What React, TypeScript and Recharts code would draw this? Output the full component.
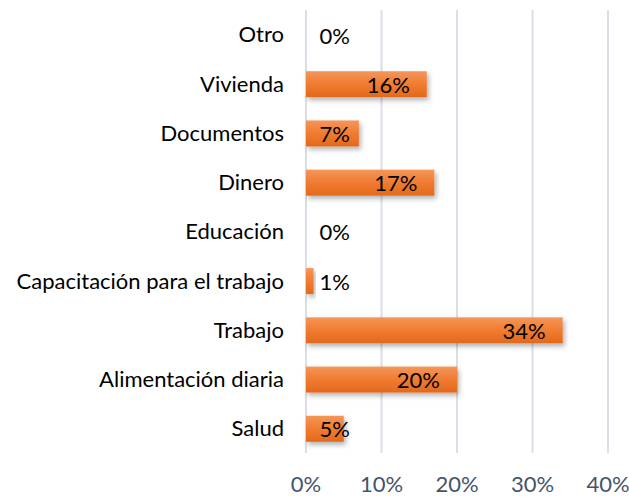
import { BarChart, Bar, XAxis, YAxis, CartesianGrid } from "recharts";

const categories = [
  "Otro",
  "Vivienda",
  "Documentos",
  "Dinero",
  "Educación",
  "Capacitación para el trabajo",
  "Trabajo",
  "Alimentación diaria",
  "Salud",
];
const shares = [0, 0.16, 0.07, 0.17, 0, 0.01, 0.34, 0.2, 0.05];
const xTicks = [0, 0.1, 0.2, 0.3, 0.4];

const data = categories.map((name, i) => ({ name, value: shares[i] }));

const FONT = "Lato, 'Open Sans', sans-serif";
const pct = (v: number) => `${Math.round(v * 100)}%`;

// Excel-style "inside end" label, pushed right when the bar is too short
const renderLabel = (props: any) => {
  const { x, y, width, height, value } = props;
  const end = Math.max(x + width - 17, x + 44);
  return (
    <text
      x={end}
      y={y + height / 2}
      textAnchor="end"
      dominantBaseline="central"
      fontFamily={FONT}
      fontSize={22}
      fill="#000"
    >
      {pct(value)}
    </text>
  );
};

const ShadowBar = (props: any) => {
  const { x, y, width, height } = props;
  if (!width || width <= 0) return null;
  return (
    <rect
      x={x}
      y={y}
      width={width}
      height={height}
      fill="url(#barFill)"
      filter="url(#barShadow)"
    />
  );
};

export default function App() {
  return (
    <div style={{ position: "absolute", left: 0, top: 0, background: "#fff" }}>
      <BarChart
        width={629}
        height={497}
        data={data}
        layout="vertical"
        margin={{ top: 10, right: 21, bottom: 0, left: 0 }}
      >
        <defs>
          <linearGradient id="barFill" x1="0" y1="0" x2="0" y2="1">
            <stop offset="0%" stopColor="#F4965A" />
            <stop offset="50%" stopColor="#F07C30" />
            <stop offset="100%" stopColor="#E2691C" />
          </linearGradient>
          <filter id="barShadow" x="-10%" y="-30%" width="130%" height="180%">
            <feDropShadow dx="2" dy="3" stdDeviation="2.5" floodColor="#000" floodOpacity="0.3" />
          </filter>
        </defs>
        <CartesianGrid horizontal={false} stroke="#D9DEE7" strokeWidth={2} />
        <XAxis
          type="number"
          domain={[0, 0.4]}
          ticks={xTicks}
          tickFormatter={pct}
          axisLine={false}
          tickLine={false}
          tickSize={0}
          tickMargin={23}
          height={44}
          tick={{ fontFamily: FONT, fontSize: 22, fill: "#44546A" }}
          interval={0}
        />
        <YAxis
          type="category"
          dataKey="name"
          width={306}
          axisLine={false}
          tickLine={false}
          tickSize={0}
          tickMargin={22}
          interval={0}
          tick={{ fontFamily: FONT, fontSize: 22, fill: "#000" }}
        />
        <Bar
          dataKey="value"
          barSize={26}
          shape={<ShadowBar />}
          label={renderLabel}
          isAnimationActive={false}
        />
      </BarChart>
    </div>
  );
}
